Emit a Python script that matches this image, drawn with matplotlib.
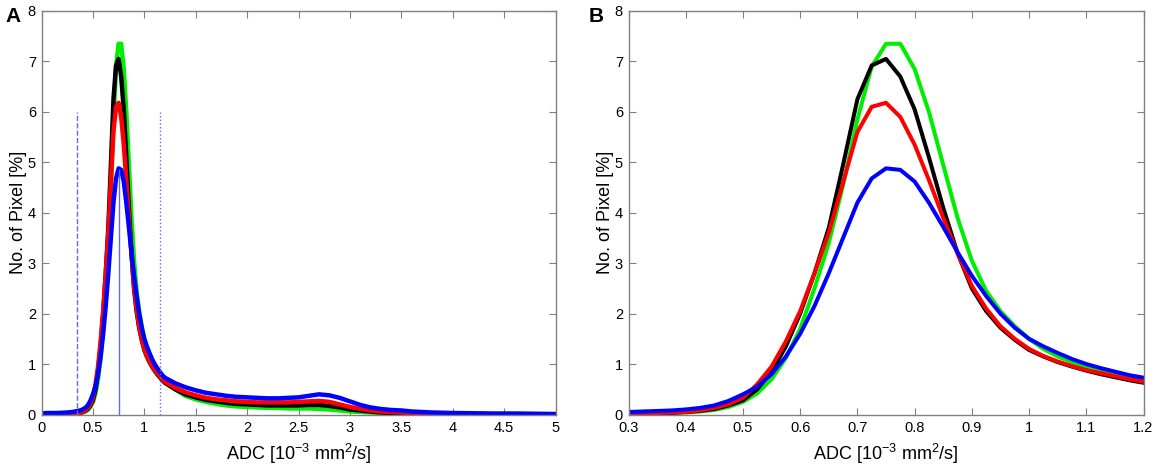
import matplotlib
matplotlib.use('Agg')
import matplotlib.pyplot as plt

plt.rcParams['font.family'] = ['Liberation Sans', 'DejaVu Sans']
plt.rcParams['mathtext.default'] = 'regular'

# ADC bins (10^-3 mm^2/s)
adc = [0.0, 0.05, 0.1, 0.15, 0.2, 0.25, 0.3,
       0.325, 0.35, 0.375, 0.4, 0.425, 0.45, 0.475, 0.5, 0.525, 0.55, 0.575,
       0.6, 0.625, 0.65, 0.675, 0.7, 0.725, 0.75, 0.775, 0.8, 0.825, 0.85,
       0.875, 0.9, 0.925, 0.95, 0.975, 1.0, 1.025, 1.05, 1.075, 1.1, 1.125,
       1.15, 1.175, 1.2,
       1.3, 1.4, 1.5, 1.6, 1.7, 1.8, 1.9, 2.0, 2.1, 2.2, 2.3, 2.4, 2.5, 2.6,
       2.7, 2.8, 2.9, 3.0, 3.1, 3.2, 3.3, 3.4, 3.5, 3.6, 3.7, 3.8, 3.9, 4.0,
       4.2, 4.4, 4.6, 4.8, 5.0]

green = [0, 0, 0, 0, 0.005, 0.01, 0.01,
         0.015, 0.02, 0.03, 0.04, 0.06, 0.09, 0.15, 0.25, 0.42, 0.7, 1.12,
         1.7, 2.5, 3.4, 4.55, 5.85, 6.9, 7.35, 7.35, 6.85, 6.0, 4.95,
         3.9, 3.05, 2.45, 2.05, 1.75, 1.5, 1.3, 1.15, 1.04, 0.95, 0.87,
         0.8, 0.73, 0.68,
         0.5, 0.37, 0.3, 0.25, 0.21, 0.18, 0.16, 0.15, 0.14, 0.13, 0.13, 0.12, 0.12, 0.12,
         0.11, 0.1, 0.08, 0.06, 0.05, 0.04, 0.03, 0.02, 0.02, 0.01, 0.01, 0.01, 0.005, 0.005,
         0, 0, 0, 0, 0]

black = [0, 0, 0, 0, 0.005, 0.01, 0.01,
         0.015, 0.02, 0.03, 0.05, 0.07, 0.11, 0.18, 0.28, 0.5, 0.85, 1.35,
         2.0, 2.8, 3.7, 4.95, 6.25, 6.92, 7.05, 6.7, 6.05, 5.1, 4.1,
         3.2, 2.5, 2.05, 1.72, 1.48, 1.28, 1.15, 1.04, 0.95, 0.87, 0.8,
         0.74, 0.68, 0.63,
         0.5, 0.4, 0.34, 0.29, 0.26, 0.23, 0.21, 0.2, 0.19, 0.18, 0.18, 0.18, 0.18, 0.19,
         0.19, 0.17, 0.14, 0.1, 0.08, 0.06, 0.04, 0.03, 0.02, 0.02, 0.01, 0.01, 0.01, 0.005,
         0, 0, 0, 0, 0]

red = [0, 0, 0, 0.005, 0.01, 0.01, 0.02,
       0.02, 0.03, 0.04, 0.05, 0.08, 0.13, 0.2, 0.33, 0.6, 0.95, 1.45,
       2.05, 2.8, 3.6, 4.6, 5.6, 6.1, 6.18, 5.9, 5.35, 4.65, 3.9,
       3.2, 2.55, 2.1, 1.75, 1.5, 1.3, 1.16, 1.05, 0.96, 0.88, 0.82,
       0.76, 0.7, 0.65,
       0.53, 0.44, 0.38, 0.33, 0.3, 0.28, 0.26, 0.25, 0.24, 0.24, 0.24, 0.24, 0.25, 0.26,
       0.27, 0.25, 0.2, 0.15, 0.11, 0.08, 0.06, 0.05, 0.04, 0.03, 0.02, 0.015, 0.01, 0.01,
       0.005, 0, 0, 0, 0]

blue = [0.02, 0.03, 0.03, 0.03, 0.035, 0.04, 0.05,
        0.06, 0.07, 0.08, 0.1, 0.13, 0.18, 0.27, 0.4, 0.55, 0.8, 1.15,
        1.6, 2.15, 2.8, 3.5, 4.2, 4.68, 4.88, 4.85, 4.62, 4.2, 3.72,
        3.22, 2.75, 2.35, 2.0, 1.72, 1.5, 1.35, 1.22, 1.1, 1.0, 0.92,
        0.85, 0.78, 0.73,
        0.62, 0.54, 0.48, 0.43, 0.4, 0.37, 0.35, 0.34, 0.33, 0.32, 0.32, 0.33, 0.34, 0.37,
        0.4, 0.38, 0.33, 0.26, 0.19, 0.14, 0.11, 0.09, 0.08, 0.06, 0.05, 0.04, 0.035, 0.03,
        0.025, 0.02, 0.02, 0.015, 0.01]

# threshold markers in panel A
vline_x = [0.35, 0.75, 1.15]
vline_top = [6, 4.85, 6]
vline_style = ['--', '-', ':']

xticks_a = [0, 0.5, 1, 1.5, 2, 2.5, 3, 3.5, 4, 4.5, 5]
xticks_b = [0.3, 0.4, 0.5, 0.6, 0.7, 0.8, 0.9, 1, 1.1, 1.2]
yticks = [0, 1, 2, 3, 4, 5, 6, 7, 8]

series = [(green, '#00ee00'), (black, 'black'), (red, '#ff0000'), (blue, '#0000ff')]


def fmt(v):
    return ('%g' % v)


fig = plt.figure(figsize=(11.58, 4.68), dpi=100)
axA = fig.add_axes([41.5/1158, 53.5/468, 514/1158, 403.5/468])
axB = fig.add_axes([628.5/1158, 53.5/468, 515/1158, 403.5/468])

for ax, xlim, xt, lw in [(axA, (0, 5), xticks_a, 3.2), (axB, (0.3, 1.2), xticks_b, 2.9)]:
    for ys, c in series:
        ax.plot(adc, ys, color=c, lw=lw)
    ax.set_xlim(*xlim)
    ax.set_ylim(0, 8)
    ax.set_xticks(xt)
    ax.set_xticklabels([fmt(v) for v in xt])
    ax.set_yticks(yticks)
    ax.set_yticklabels([fmt(v) for v in yticks])
    ax.tick_params(direction='in', top=True, right=True, length=5, width=0.8,
                   color='#808080', labelsize=10.5, pad=4)
    ax.tick_params(axis='x', pad=5)
    for s in ax.spines.values():
        s.set_color('#808080')
        s.set_linewidth(1.0)
    ax.set_xlabel('ADC [10$^{-3}$ mm$^{2}$/s]', fontsize=13, labelpad=5)
    ax.set_ylabel('No. of Pixel [%]', fontsize=13, labelpad=0.5)

for x, top, ls in zip(vline_x, vline_top, vline_style):
    axA.plot([x, x], [0, top], color='#6464ff', lw=1.0, linestyle=ls)

fig.text(5/1158, 1 - 22/468, 'A', fontsize=15, fontweight='bold')
fig.text(589/1158, 1 - 22/468, 'B', fontsize=15, fontweight='bold')

fig.savefig('out.png', dpi=100)
